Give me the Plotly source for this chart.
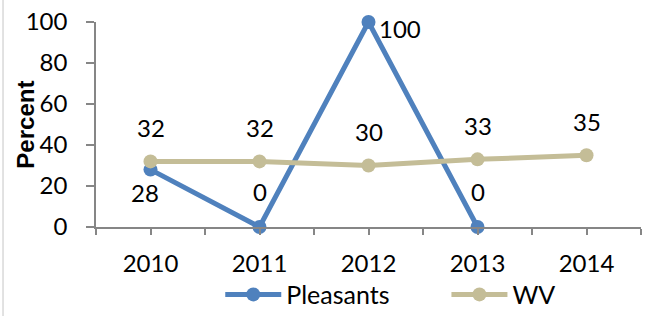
import plotly.graph_objects as go

years = ["2010", "2011", "2012", "2013", "2014"]
pleasants = [28, 0, 100, 0, None]
wv = [32, 32, 30, 33, 35]
y_ticks = [0, 20, 40, 60, 80, 100]
y_title = "Percent"

BLUE = "#4F81BD"
TAN = "#C4BD97"
FONT = "Lato"
AXIS = "#868686"

xs = list(range(len(years)))

fig = go.Figure()
fig.add_trace(go.Scatter(
    x=xs, y=pleasants, name="Pleasants", mode="lines+markers",
    line=dict(color=BLUE, width=5), marker=dict(size=14, color=BLUE),
    connectgaps=False, cliponaxis=False, legend="legend",
))
fig.add_trace(go.Scatter(
    x=xs, y=wv, name="WV", mode="lines+markers",
    line=dict(color=TAN, width=5), marker=dict(size=14, color=TAN),
    cliponaxis=False, legend="legend2",
))

# data labels
p_shift = [(-6, -23), (0, 36), (31, -6), (0, 36), (0, 0)]
for i, v in enumerate(pleasants):
    if v is None:
        continue
    dx, dy = p_shift[i]
    fig.add_annotation(x=xs[i], y=v, text=str(v), showarrow=False,
                       xshift=dx, yshift=dy, font=dict(size=24, color="black", family=FONT))
for i, v in enumerate(wv):
    fig.add_annotation(x=xs[i], y=v, text=str(v), showarrow=False,
                       xshift=0, yshift=34, font=dict(size=24, color="black", family=FONT))

# y-axis title
fig.add_annotation(xref="paper", yref="paper", x=-0.13, y=0.5, text=f"<b>{y_title}</b>",
                   textangle=-90, showarrow=False, xanchor="center", yanchor="middle",
                   font=dict(size=24, color="black", family="Liberation Sans"))

tickvals = []
ticktext = []
for i, y in enumerate(years):
    tickvals += [i - 0.5, i]
    ticktext += ["", y]
tickvals.append(len(years) - 0.5)
ticktext.append("")

fig.add_shape(type="line", xref="paper", yref="paper",
              x0=-0.1706, x1=-0.1706, y0=-0.44, y1=1.11,
              line=dict(color="#D9D9D9", width=1.5))

leg_common = dict(orientation="h", yanchor="middle", y=-0.33, xanchor="left",
                  font=dict(size=25, family=FONT), itemwidth=56,
                  bgcolor="rgba(0,0,0,0)", borderwidth=0)

fig.update_layout(
    width=647, height=316,
    margin=dict(l=96, r=6, t=22, b=89, autoexpand=False),
    paper_bgcolor="white", plot_bgcolor="white",
    font=dict(family=FONT, size=24, color="black"),
    showlegend=True,
    legend=dict(x=0.228, **leg_common),
    legend2=dict(x=0.643, **leg_common),
    xaxis=dict(range=[-0.5, len(years) - 0.5], tickmode="array",
               tickvals=tickvals, ticktext=ticktext, showgrid=False, zeroline=False,
               showline=True, linecolor=AXIS, linewidth=1.5, automargin=False,
               ticks="outside", ticklen=6, tickcolor=AXIS, tickwidth=1.5,
               ticklabelstandoff=8,
               tickfont=dict(size=24, family=FONT)),
    yaxis=dict(range=[0, 100], tickvals=y_ticks, showgrid=False, zeroline=False,
               showline=True, linecolor=AXIS, linewidth=1.5, automargin=False,
               ticks="outside", ticklen=8, tickcolor=AXIS, tickwidth=1.5,
               ticklabelstandoff=14,
               tickfont=dict(size=24, family=FONT)),
)

fig.write_html("out.html", config={"displayModeBar": False},
               post_script="document.body.style.margin='0';")
